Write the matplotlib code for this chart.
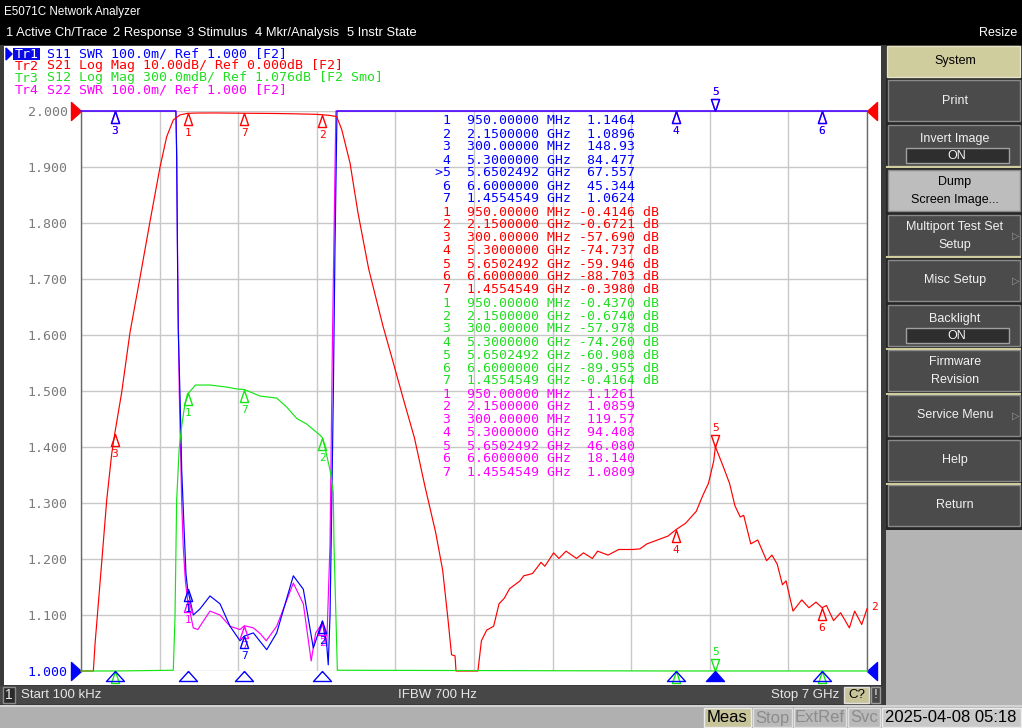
import numpy as np
import matplotlib
matplotlib.use("Agg")
import matplotlib.pyplot as plt
from matplotlib.patches import Rectangle

W, H = 1022, 728
MONO = "DejaVu Sans Mono"
SANS = ["Liberation Sans", "DejaVu Sans"]
NARROW = ["Liberation Sans Narrow", "Liberation Sans", "DejaVu Sans"]
CHAR_W = 7.94  # px per monospace char at 9.5 pt

BLUE = "#0000ff"
RED = "#ff0000"
GREEN = "#14e614"
MAGENTA = "#ff00ff"

# stimulus range (GHz)
f_start, f_stop = 0.0001, 7.0

# Tr2 S21 log mag (dB)
freq_s21 = [0.0001, 0.110, 0.125, 0.184, 0.229, 0.273, 0.300, 0.362, 0.436, 0.525,
            0.614, 0.704, 0.763, 0.822, 0.882, 0.950, 1.050, 1.200, 1.300, 1.455,
            1.600, 1.750, 1.900, 2.000, 2.080, 2.150, 2.220, 2.277, 2.322, 2.396,
            2.467, 2.562, 2.688, 2.782, 2.876, 2.970, 3.064, 3.158, 3.221, 3.268,
            3.300, 3.331, 3.340, 3.535, 3.566, 3.613, 3.675, 3.723, 3.770, 3.817,
            3.910, 3.943, 4.021, 4.097, 4.131, 4.209, 4.256, 4.320, 4.413, 4.475,
            4.554, 4.601, 4.694, 4.789, 4.914, 4.977, 5.040, 5.134, 5.228, 5.300,
            5.385, 5.479, 5.541, 5.588, 5.635, 5.650, 5.714, 5.776, 5.824, 5.871,
            5.902, 5.965, 6.027, 6.106, 6.153, 6.200, 6.247, 6.279, 6.341, 6.419,
            6.483, 6.546, 6.600, 6.639, 6.702, 6.765, 6.843, 6.890, 6.953, 7.000]
s21_db = [-102, -102, -95.2, -80.7, -69.5, -61.3, -57.69, -50.3, -39.6, -29.8,
          -19.8, -10.0, -4.6, -1.6, -0.7, -0.41, -0.36, -0.35, -0.37, -0.40,
          -0.42, -0.45, -0.50, -0.55, -0.58, -0.67, -0.80, -1.0, -3.3, -9.3,
          -18.2, -28.2, -38.3, -45.0, -51.8, -58.4, -67.1, -75.2, -82.0, -90.7,
          -97.1, -97.3, -102, -102, -94.6, -92.7, -92.0, -88.0, -87.0, -85.3,
          -83.9, -83.0, -82.6, -80.6, -81.3, -78.9, -79.9, -78.6, -79.9, -78.9,
          -79.9, -78.6, -79.3, -78.3, -78.3, -78.2, -77.3, -76.6, -75.9, -74.74,
          -73.6, -71.5, -68.5, -66.5, -62.5, -59.95, -63.2, -66.5, -70.5, -72.5,
          -72.2, -77.3, -76.6, -80.3, -79.3, -80.9, -84.6, -83.9, -89.3, -87.3,
          -88.7, -87.7, -88.7, -88.3, -91.0, -89.6, -92.3, -89.3, -91.7, -88.9]

# Tr3 S12 log mag (dB)
freq_s12 = [0.0001, 0.300, 0.822, 0.837, 0.852, 0.875, 0.897, 0.926, 0.950, 0.961,
            1.020, 1.149, 1.298, 1.387, 1.455, 1.594, 1.743, 1.832, 1.921, 2.010,
            2.069, 2.128, 2.150, 2.173, 2.218, 2.247, 2.253, 2.271, 2.283, 5.300,
            5.650, 6.600, 7.000]
s12_db = [-60.0, -57.978, -1.92, -1.643, -1.008, -0.729, -0.611, -0.492, -0.437, -0.433,
          -0.392, -0.392, -0.403, -0.413, -0.416, -0.451, -0.462, -0.510, -0.571, -0.601,
          -0.631, -0.660, -0.674, -0.729, -0.847, -0.968, -1.244, -1.643, -1.92, -74.26,
          -60.908, -89.955, -90.0]

# Tr1 S11 SWR
freq_s11 = [0.0001, 0.300, 0.845, 0.852, 0.858, 0.866, 0.882, 0.897, 0.917, 0.935,
            0.950, 1.000, 1.060, 1.149, 1.238, 1.327, 1.416, 1.455, 1.535, 1.654,
            1.743, 1.891, 1.980, 2.069, 2.150, 2.188, 2.202, 2.218, 2.233, 2.247,
            2.262, 2.280, 5.300, 5.650, 6.600, 7.000]
s11_swr = [150.0, 148.93, 3.0, 1.92, 1.768, 1.610, 1.491, 1.359, 1.259, 1.173,
           1.1464, 1.100, 1.111, 1.134, 1.120, 1.080, 1.054, 1.0624, 1.068, 1.038,
           1.068, 1.170, 1.146, 1.041, 1.0896, 1.048, 1.011, 1.100, 1.293, 1.491,
           1.755, 2.5, 84.477, 67.557, 45.344, 40.0]

# Tr4 S22 SWR
freq_s22 = [0.0001, 0.300, 0.846, 0.853, 0.862, 0.875, 0.897, 0.911, 0.930, 0.950,
            1.000, 1.040, 1.149, 1.238, 1.327, 1.416, 1.455, 1.535, 1.595, 1.650,
            1.743, 1.891, 1.980, 2.050, 2.090, 2.150, 2.188, 2.218, 2.240, 2.270,
            5.300, 5.650, 6.600, 7.000]
s22_swr = [120.0, 119.57, 3.0, 1.92, 1.70, 1.50, 1.30, 1.22, 1.16, 1.1261,
           1.077, 1.074, 1.107, 1.100, 1.080, 1.074, 1.0809, 1.077, 1.067, 1.054,
           1.080, 1.157, 1.120, 1.018, 1.068, 1.0859, 1.045, 1.227, 1.60, 2.5,
           94.408, 46.08, 18.14, 15.0]

# markers 1..7
mkr_freq = [0.95, 2.15, 0.3, 5.3, 5.6502492, 6.6, 1.4554549]
mkr_s11 = [1.1464, 1.0896, 148.93, 84.477, 67.557, 45.344, 1.0624]
mkr_s21 = [-0.4146, -0.6721, -57.690, -74.737, -59.946, -88.703, -0.3980]
mkr_s12 = [-0.4370, -0.6740, -57.978, -74.260, -60.908, -89.955, -0.4164]
mkr_s22 = [1.1261, 1.0859, 119.57, 94.408, 46.080, 18.140, 1.0809]
active_mkr = 5

trace_headers = [
    ("Tr1", "S11 SWR 100.0m/ Ref 1.000 [F2]", BLUE),
    ("Tr2", "S21 Log Mag 10.00dB/ Ref 0.000dB [F2]", RED),
    ("Tr3", "S12 Log Mag 300.0mdB/ Ref 1.076dB [F2 Smo]", "#22dd22"),
    ("Tr4", "S22 SWR 100.0m/ Ref 1.000 [F2]", MAGENTA),
]

menu_items = [("1 Active Ch/Trace", 6), ("2 Response", 113), ("3 Stimulus", 187),
              ("4 Mkr/Analysis", 255), ("5 Instr State", 347)]
softkeys = [("Print",), ("Invert Image", "ON"), ("Dump", "Screen Image..."),
            ("Multiport Test Set", "Setup"), ("Misc Setup",), ("Backlight", "ON"),
            ("Firmware", "Revision"), ("Service Menu",), ("Help",), ("Return",)]


fig = plt.figure(figsize=(W / 100, H / 100), dpi=100)
fig.patch.set_facecolor("#b4b4b4")

ui = fig.add_axes([0, 0, 1, 1])
ui.set_xlim(0, W)
ui.set_ylim(H, 0)
ui.set_axis_off()


def box(x0, y0, x1, y1, fc, ec="none", lw=1.0):
    ui.add_patch(Rectangle((x0, y0), x1 - x0, y1 - y0, facecolor=fc, edgecolor=ec, linewidth=lw))


def txt(x, y, s, color="white", size=9, family=SANS, ha="left"):
    fig.text(x / W, 1 - y / H, s, color=color, fontsize=size, family=family, ha=ha, va="center")


# title and menu bars
box(0, 0, W, 45, "black")
txt(4, 12, "E5071C Network Analyzer", size=8.4)
for item, x in menu_items:
    txt(x, 33, item, size=9.3)
txt(1017, 33, "Resize", ha="right", size=9)

# chart window
box(0, 45, 886, 705, "#3a3a3a")
box(4, 46, 881, 685, "white")
box(0, 686, 881, 704, "#474747")
box(3, 687, 15, 703, "#2a2a2a", ec="#8a8a8a")
txt(9, 695, "1", color="#e8e8e8", size=10, family=NARROW, ha="center")
txt(21, 695, "Start 100 kHz", color="#e8e8e8", size=9.5, family=NARROW)
txt(437, 695, "IFBW 700 Hz", color="#e8e8e8", size=9.5, family=NARROW, ha="center")
txt(839, 695, "Stop 7 GHz", color="#e8e8e8", size=9.5, family=NARROW, ha="right")
box(844, 687, 869, 703, "#c8c49a", ec="#e0e0e0")
txt(856.5, 695, "C?", color="black", size=9.5, family=NARROW, ha="center")
box(871, 687, 880, 703, "#474747", ec="#9a9a9a")
txt(875.5, 695, "!", color="#e8e8e8", size=9.5, family=NARROW, ha="center")

# softkey panel
box(886, 45, W, 530, "#262626")
box(887, 46, 1020, 77, "#cfcc9e", ec="#e6e4c8")
txt(955, 61, "System", color="black", size=9, ha="center")
for i, lines in enumerate(softkeys):
    top = 80 + i * 45
    bot = top + 41
    selected = lines[0] == "Dump"
    box(888, top, 1020, bot, "#bdbdbd" if selected else "#4b4b4b", ec="#8a8a8a")
    col = "black" if selected else "#f2f2f2"
    if len(lines) == 1:
        txt(955, (top + bot) / 2, lines[0], color=col, ha="center")
    elif lines[1] == "ON":
        txt(955, top + 14, lines[0], color=col, ha="center")
        box(906, top + 23, 1009, top + 38, "#2e2e2e", ec="#a0a0a0")
        txt(957, top + 31, "ON", color=col, ha="center")
    else:
        txt(955, top + 12, lines[0], color=col, ha="center")
        txt(955, top + 30, lines[1], color=col, ha="center")
    if lines[0] in ("Multiport Test Set", "Misc Setup", "Service Menu"):
        txt(1016, (top + bot) / 2, "\u25b7", color="#9a9a9a", size=7, family="DejaVu Sans", ha="center")
for ysep in (167, 257, 349, 394, 484):
    ui.plot([887, 1020], [ysep, ysep], color="#cfcc9e", lw=1.5)

# status bar
box(0, 705, W, H, "#b0b0b0")
ui.plot([0, W], [706, 706], color="#dcdcdc", lw=1.2)
box(704, 708, 751, 727, "#c8c49a", ec="#ececec")
txt(727.5, 718, "Meas", color="black", size=12, family=NARROW, ha="center")
for label, x0, x1 in (("Stop", 753, 792), ("ExtRef", 794, 846), ("Svc", 848, 880)):
    box(x0, 708, x1, 727, "#bababa", ec="#e0e0e0")
    txt((x0 + x1) / 2, 718, label, color="#8c8c8c", size=12, family=NARROW, ha="center")
box(882, 708, 1021, 727, "#c8c8c8", ec="#ececec")
txt(951, 718, "2025-04-08 05:18", color="black", size=12, family=NARROW, ha="center")

# trace header lines
for i, (tr, desc, col) in enumerate(trace_headers):
    y = 54 + 12 * i
    if i == 0:
        box(13, 48, 40, 60, "#0a0ae6")
        ui.fill([6, 12, 6], [48, 54, 60], color=BLUE)
        txt(15, y, tr, color="white", size=9.5, family=MONO)
    else:
        txt(15, y, tr, color=col, size=9.5, family=MONO)
    txt(15 + 4 * CHAR_W, y, desc, color=col, size=9.5, family=MONO)


# marker readout table
def fmt_freq(f):
    return f"{f * 1000:.5f} MHz" if f < 1 else f"{f:.7f} GHz"


def fmt_val(v, db):
    if db:
        s = f"{v:.4f}" if abs(v) < 1 else f"{v:#.5g}"
        return f"{s:>7} dB"
    return f"{v:#.5g}".rjust(7)


table = [(mkr_s11, False, BLUE), (mkr_s21, True, RED),
         (mkr_s12, True, "#22dd22"), (mkr_s22, False, MAGENTA)]
row = 0
for vals, db, col in table:
    for k, (f, v) in enumerate(zip(mkr_freq, vals)):
        num = k + 1
        pre = f">{num}" if (col == BLUE and num == active_mkr) else f" {num}"
        line = f"{pre}  {fmt_freq(f)} {fmt_val(v, db)}"
        txt(435, 121 + 13 * row, line, color=col, size=9.5, family=MONO)
        row += 1

# ---- graticule ----
ax = fig.add_axes([81 / W, (H - 671) / H, 786 / W, 560 / H])
ax.set_facecolor("none")
ax.set_xlim(f_start, f_stop)
ax.set_ylim(1.0, 2.0)
ax.set_xticks(np.linspace(f_start, f_stop, 11))
ax.set_xticklabels([])
ax.set_yticks(np.arange(1.0, 2.001, 0.1))
ax.set_yticklabels([f"{v:.3f}" for v in np.arange(1.0, 2.001, 0.1)], family=MONO)
ax.tick_params(length=0)
ax.tick_params(axis="y", pad=9.5, labelsize=9.5, labelcolor="#7a7a7a")
ax.get_yticklabels()[0].set_color(BLUE)
ax.grid(True, color="#c8c8c8", lw=1.0)
for side in ("top", "bottom"):
    ax.spines[side].set_visible(False)
for side in ("left", "right"):
    ax.spines[side].set_color("#6a6a6a")
    ax.spines[side].set_linewidth(1.0)

axr = ax.twinx()
axr.set_ylim(-100, 0)
axr.set_axis_off()
axg = ax.twinx()
axg.set_ylim(1.076 - 3.0, 1.076)
axg.set_axis_off()

tri_below = [(0, 0), (-0.34, -1), (0.34, -1), (0, 0)]
tri_above = [(0, 0), (-0.34, 1), (0.34, 1), (0, 0)]
wide_below = [(0, 0), (-0.9, -1), (0.9, -1), (0, 0)]
ref_right = [(0, 0), (-1, 0.9), (-1, -0.9), (0, 0)]
ref_left = [(0, 0), (1, 0.9), (1, -0.9), (0, 0)]


def draw_trace(axis, freqs, vals, color, lo, hi, z):
    axis.plot(freqs, np.clip(vals, lo, hi), color=color, lw=0.85, clip_on=False, zorder=z)


def draw_markers(axis, vals, color, lo, hi, z):
    for k, (f, v) in enumerate(zip(mkr_freq, vals)):
        num = k + 1
        vc = min(max(v, lo), hi)
        shape, dy = (tri_above, 19) if num == active_mkr else (tri_below, -20)
        axis.plot([f], [vc], marker=shape, ms=17.3, mfc="none", mec=color, mew=1.0,
                  clip_on=False, zorder=z)
        if vc == lo and num != active_mkr:
            continue
        axis.annotate(str(num), (f, vc), xytext=(0, dy), textcoords="offset pixels",
                      ha="center", va="center", color=color, fontsize=8, family=MONO,
                      annotation_clip=False, zorder=z)


draw_trace(ax, freq_s22, s22_swr, MAGENTA, 1.0, 2.0, 3)
draw_trace(ax, freq_s11, s11_swr, BLUE, 1.0, 2.0, 4)
draw_markers(ax, mkr_s22, MAGENTA, 1.0, 2.0, 5)
draw_markers(ax, mkr_s11, BLUE, 1.0, 2.0, 6)
draw_trace(axr, freq_s21, s21_db, RED, -100, 0, 3)
draw_markers(axr, mkr_s21, RED, -100, 0, 5)
axr.annotate("2", (freq_s21[-1], s21_db[-1]), xytext=(7, 2), textcoords="offset pixels",
             ha="center", va="center", color=RED, fontsize=8, family=MONO, annotation_clip=False)
draw_trace(axg, freq_s12, s12_db, GREEN, 1.076 - 3.0, 1.076, 3)
draw_markers(axg, mkr_s12, GREEN, 1.076 - 3.0, 1.076, 5)

# stimulus marker indicators of the active trace
for k, f in enumerate(mkr_freq):
    filled = (k + 1) == active_mkr
    axg.plot([f], [1.076 - 3.0], marker=wide_below, ms=14.4, mfc=BLUE if filled else "none",
             mec=BLUE, mew=1.0, clip_on=False, zorder=6)

# reference position triangles
for xa, shape in ((0, ref_right), (1, ref_left)):
    ax.plot([xa], [1], marker=shape, ms=14.4, color=RED, transform=ax.transAxes, clip_on=False)
    ax.plot([xa], [0], marker=shape, ms=14.4, color=BLUE, transform=ax.transAxes, clip_on=False)

fig.savefig("out.png", dpi=100, facecolor=fig.get_facecolor())
